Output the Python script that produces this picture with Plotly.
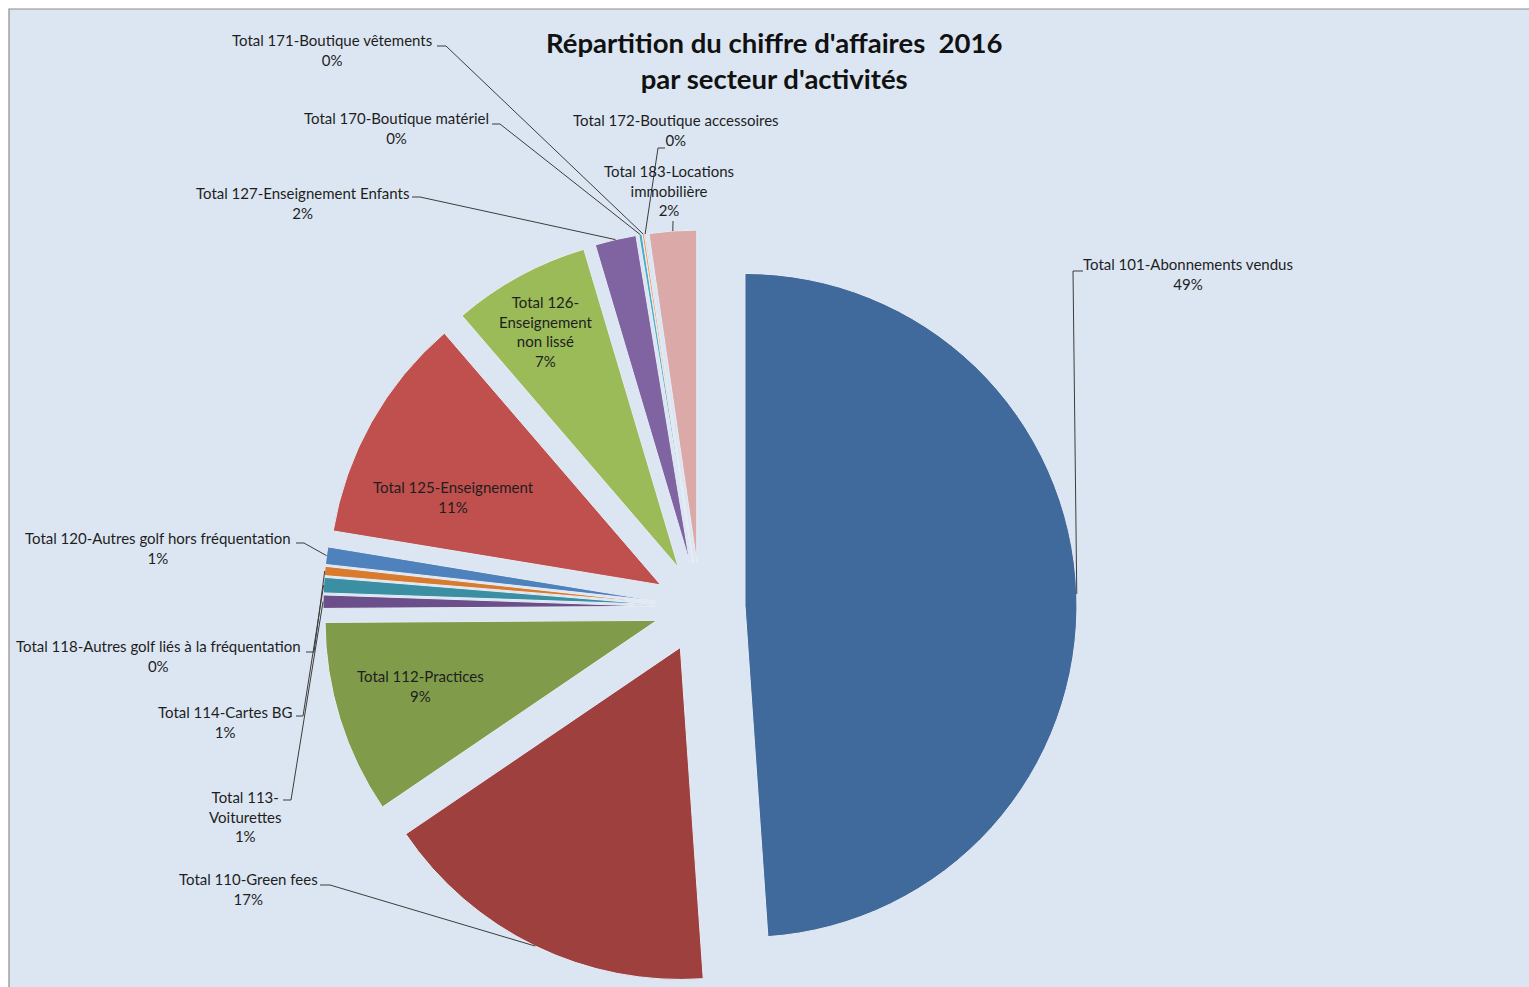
import math
import plotly.graph_objects as go

# ---------------- data ----------------
categories = [
    "Total 101-Abonnements vendus",
    "Total 110-Green fees",
    "Total 112-Practices",
    "Total 113-Voiturettes",
    "Total 114-Cartes BG",
    "Total 118-Autres golf liés à la fréquentation",
    "Total 120-Autres golf hors fréquentation",
    "Total 125-Enseignement",
    "Total 126-Enseignement non lissé",
    "Total 127-Enseignement Enfants",
    "Total 170-Boutique matériel",
    "Total 171-Boutique vêtements",
    "Total 172-Boutique accessoires",
    "Total 183-Locations immobilière",
]
shares = [48.9, 16.6, 9.4, 0.65, 0.75, 0.45, 0.85, 11.1, 6.7, 2.0, 0.15, 0.10, 0.05, 2.3]
display_names = [
    "Total 101-Abonnements vendus",
    "Total 110-Green fees",
    "Total 112-Practices",
    "Total 113-<br>Voiturettes",
    "Total 114-Cartes BG",
    "Total 118-Autres golf liés à la fréquentation",
    "Total 120-Autres golf hors fréquentation",
    "Total 125-Enseignement",
    "Total 126-<br>Enseignement<br>non lissé",
    "Total 127-Enseignement Enfants",
    "Total 170-Boutique matériel",
    "Total 171-Boutique vêtements",
    "Total 172-Boutique accessoires",
    "Total 183-Locations<br>immobilière",
]
colors = ["#40699C", "#9E413E", "#809C4A", "#6B4F8B", "#3A8FA3", "#D97B2F", "#4F81BD",
          "#C0504D", "#9BBB59", "#8064A2", "#4BACC6", "#F79646", "#7F9FCF", "#DBA9A8"]

title_text = "Répartition du chiffre d'affaires\u00a0\u00a02016<br>par secteur d'activités"

# ---------------- geometry (pixels) ----------------
W, H = 1529, 987
CX, CY = 700, 607
R = 332
PULL_PX = 45
pull = PULL_PX / R
half = R + PULL_PX

FONT = "Lato"
TXT = "#1E1E1E"
BG = "#DCE6F2"


def px(x):
    return x / W


def py(y):
    return 1 - y / H


total = sum(shares)
mids = []
acc = 0.0
for v in shares:
    mids.append((acc + v / 2) / total * 360.0)
    acc += v
pcts = [f"{round(v / total * 100)}%" for v in shares]


def tip(i):
    a = math.radians(mids[i])
    d = R + PULL_PX
    return CX + d * math.sin(a), CY - d * math.cos(a)


fig = go.Figure()
fig.add_trace(go.Pie(
    labels=categories,
    values=shares,
    sort=False,
    direction="clockwise",
    rotation=0,
    pull=[pull] * len(shares),
    marker=dict(colors=colors, line=dict(color="#E6EDF6", width=1)),
    textinfo="none",
    hoverinfo="label+percent",
    showlegend=False,
    domain=dict(x=[px(CX - half), px(CX + half)], y=[py(CY + half), py(CY - half)]),
))

# label layout: index -> (text center x, y, start point, elbow point)
label_layout = {
    0: (1188, 274, (1083, 271), (1073, 271)),
    1: (248, 889, (320, 885), (330, 885)),
    3: (246, 816, (283, 800), (291, 800)),
    4: (225, 722, (296, 716), (303, 716)),
    5: (158, 656, (306, 652), (314, 652)),
    6: (158, 548, (296, 543), (304, 543)),
    9: (302, 203, (412, 197), (420, 197)),
    10: (396, 128, (492, 124), (500, 124)),
    11: (332, 50, (437, 46), (446, 46)),
    12: (676, 130, (665, 148), (658, 148)),
    13: (669, 190, (673, 221), (673, 221)),
}
inside_layout = {
    2: (420, 686),
    7: (453, 497),
    8: (545, 331),
}

annotations = []
shapes = [
    dict(type="rect", xref="paper", yref="paper", x0=px(9), x1=px(W + 20), y0=py(H + 20), y1=py(9),
         fillcolor=BG, line=dict(color="#8C8C8C", width=1.2), layer="below"),
]

for i, (tx, ty, s, e) in label_layout.items():
    annotations.append(dict(
        x=px(tx), y=py(ty), xref="paper", yref="paper", showarrow=False,
        text=f"{display_names[i]}<br>{pcts[i]}", align="center",
        xanchor="center", yanchor="middle",
        font=dict(family=FONT, size=15, color=TXT),
    ))
    tx2, ty2 = tip(i)
    path = f"M {px(s[0])},{py(s[1])} L {px(e[0])},{py(e[1])} L {px(tx2)},{py(ty2)}"
    shapes.append(dict(type="path", xref="paper", yref="paper", path=path,
                       line=dict(color="#3C3C3C", width=1)))

for i, (tx, ty) in inside_layout.items():
    annotations.append(dict(
        x=px(tx), y=py(ty), xref="paper", yref="paper", showarrow=False,
        text=f"{display_names[i]}<br>{pcts[i]}", align="center",
        xanchor="center", yanchor="middle",
        font=dict(family=FONT, size=15, color=TXT),
    ))

annotations.append(dict(
    x=px(774), y=py(61), xref="paper", yref="paper", showarrow=False,
    text=f"<b>{title_text}</b>", align="center", xanchor="center", yanchor="middle",
    font=dict(family=FONT, size=27.5, color="#111111"),
))

fig.update_layout(
    width=W, height=H, autosize=False,
    margin=dict(l=0, r=0, t=0, b=0),
    paper_bgcolor="white",
    plot_bgcolor="white",
    annotations=annotations,
    shapes=shapes,
)

fig.write_html("out.html", config={"displayModeBar": False},
               post_script="document.body.style.margin='0';")
